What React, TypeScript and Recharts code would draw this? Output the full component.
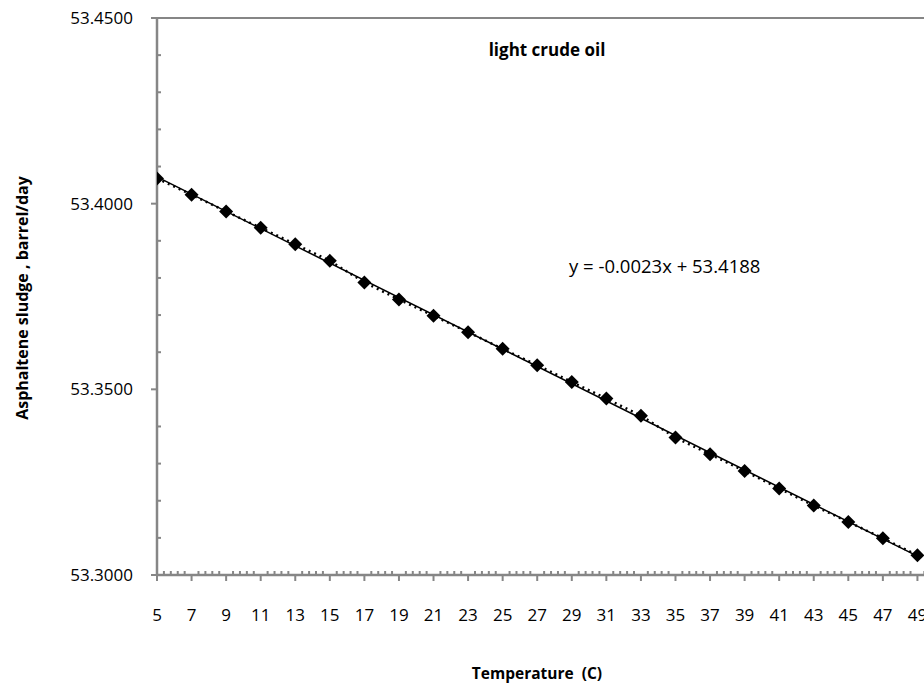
import { ReferenceLine, Scatter, ScatterChart, XAxis, YAxis } from "recharts";

const temperatures = [5, 7, 9, 11, 13, 15, 17, 19, 21, 23, 25, 27, 29, 31, 33, 35, 37, 39, 41, 43, 45, 47, 49];
const sludge = [
  53.4068, 53.4024, 53.3979, 53.3935, 53.3891, 53.3846, 53.3788, 53.3742, 53.3698, 53.3654, 53.3609, 53.3565,
  53.352, 53.3475, 53.3429, 53.337, 53.3325, 53.328, 53.3233, 53.3187, 53.3143, 53.3099, 53.3053,
];
const xMajorTicks = [5, 7, 9, 11, 13, 15, 17, 19, 21, 23, 25, 27, 29, 31, 33, 35, 37, 39, 41, 43, 45, 47, 49, 51];
const yMajorTicks = [53.3, 53.35, 53.4, 53.45];
const X_MINOR_STEP = 0.4;
const Y_MINOR_STEP = 0.01;
const chartTitle = "light crude oil";
const xTitle = "Temperature  (C)";
const yTitle = "Asphaltene sludge , barrel/day";
const equation = "y = -0.0023x + 53.4188";

const AXIS = "#868686";
const FONT = "'Open Sans', sans-serif";

const points = temperatures.map((t, i) => ({ t, v: sludge[i] }));

// least squares trendline from the points
const n = points.length;
const mx = temperatures.reduce((a, b) => a + b, 0) / n;
const my = sludge.reduce((a, b) => a + b, 0) / n;
const slope =
  points.reduce((a, p) => a + (p.t - mx) * (p.v - my), 0) / points.reduce((a, p) => a + (p.t - mx) ** 2, 0);
const intercept = my - slope * mx;
const tFirst = temperatures[0];
const tLast = temperatures[n - 1];

const xDomain = [xMajorTicks[0], xMajorTicks[xMajorTicks.length - 1]];
const yDomain = [yMajorTicks[0], yMajorTicks[yMajorTicks.length - 1]];

const xTicks: number[] = [];
for (let i = 0; xDomain[0] + i * X_MINOR_STEP <= xDomain[1] + 1e-9; i++) {
  xTicks.push(+(xDomain[0] + i * X_MINOR_STEP).toFixed(2));
}
const yTicks: number[] = [];
for (let i = 0; yDomain[0] + i * Y_MINOR_STEP <= yDomain[1] + 1e-9; i++) {
  yTicks.push(+(yDomain[0] + i * Y_MINOR_STEP).toFixed(4));
}

const isXMajor = (v: number) => xMajorTicks.some((m) => Math.abs(m - v) < 1e-6);
const isYMajor = (v: number) => yMajorTicks.some((m) => Math.abs(m - v) < 1e-6);

function XTick(props: any) {
  const { x, y, payload } = props;
  if (isXMajor(payload.value)) {
    return (
      <g>
        <line x1={x} x2={x} y1={y} y2={y + 6} stroke={AXIS} strokeWidth={2} />
        <text x={x} y={y + 40} textAnchor="middle" dy="0.35em" fontSize={17} fontFamily={FONT} fill="#000">
          {payload.value}
        </text>
      </g>
    );
  }
  return <line x1={x} x2={x} y1={y} y2={y - 4} stroke={AXIS} strokeWidth={2} />;
}

function YTick(props: any) {
  const { x, y, payload } = props;
  if (isYMajor(payload.value)) {
    return (
      <g>
        <line x1={x - 6} x2={x} y1={y} y2={y} stroke={AXIS} strokeWidth={2} />
        <text x={x - 24} y={y} textAnchor="end" dy="0.35em" fontSize={17} fontFamily={FONT} fill="#000">
          {payload.value.toFixed(4)}
        </text>
      </g>
    );
  }
  return <line x1={x} x2={x + 4} y1={y} y2={y} stroke={AXIS} strokeWidth={2} />;
}

function Diamond(props: any) {
  const { cx, cy } = props;
  const r = 7;
  return <polygon points={`${cx},${cy - r} ${cx + r},${cy} ${cx},${cy + r} ${cx - r},${cy}`} fill="#000" />;
}

export default function App() {
  return (
    <div
      style={{
        position: "absolute",
        left: 0,
        top: 0,
        width: 924,
        height: 690,
        overflow: "hidden",
        background: "#fff",
        fontFamily: FONT,
      }}
    >
      <ScatterChart width={960} height={690} margin={{ top: 18, right: 8, left: 57, bottom: 55 }}>
        <XAxis
          type="number"
          dataKey="t"
          domain={xDomain}
          ticks={xTicks}
          interval={0}
          allowDataOverflow
          height={60}
          tickSize={0}
          tickMargin={0}
          tickLine={false}
          tick={<XTick />}
          axisLine={{ stroke: AXIS, strokeWidth: 2.5 }}
        />
        <YAxis
          type="number"
          dataKey="v"
          domain={yDomain}
          ticks={yTicks}
          interval={0}
          allowDataOverflow
          width={100}
          tickSize={0}
          tickMargin={0}
          tickLine={false}
          tick={<YTick />}
          axisLine={{ stroke: AXIS, strokeWidth: 2.5 }}
        />
        <ReferenceLine y={yDomain[1]} stroke={AXIS} strokeWidth={2} />
        <Scatter
          data={points}
          fill="#000"
          line={{ stroke: "#000", strokeWidth: 2.5, strokeDasharray: "2 4" }}
          shape={<Diamond />}
          isAnimationActive={false}
        />
        <ReferenceLine
          segment={[
            { x: tFirst, y: intercept + slope * tFirst },
            { x: tLast, y: intercept + slope * tLast },
          ]}
          stroke="#000"
          strokeWidth={1.5}
        />
      </ScatterChart>
      <div
        style={{
          position: "absolute",
          left: 547,
          top: 49,
          transform: "translate(-50%, -50%)",
          fontSize: 17,
          fontWeight: 700,
          whiteSpace: "nowrap",
        }}
      >
        {chartTitle}
      </div>
      <div
        style={{
          position: "absolute",
          left: 569,
          top: 265,
          transform: "translateY(-50%)",
          fontSize: 18.5,
          whiteSpace: "nowrap",
        }}
      >
        {equation}
      </div>
      <div
        style={{
          position: "absolute",
          left: 537,
          top: 673,
          transform: "translate(-50%, -50%)",
          fontSize: 15.5,
          fontWeight: 700,
          whiteSpace: "pre",
        }}
      >
        {xTitle}
      </div>
      <div
        style={{
          position: "absolute",
          left: 22,
          top: 298,
          transform: "translate(-50%, -50%) rotate(-90deg)",
          fontSize: 16,
          fontWeight: 700,
          whiteSpace: "nowrap",
        }}
      >
        {yTitle}
      </div>
    </div>
  );
}
